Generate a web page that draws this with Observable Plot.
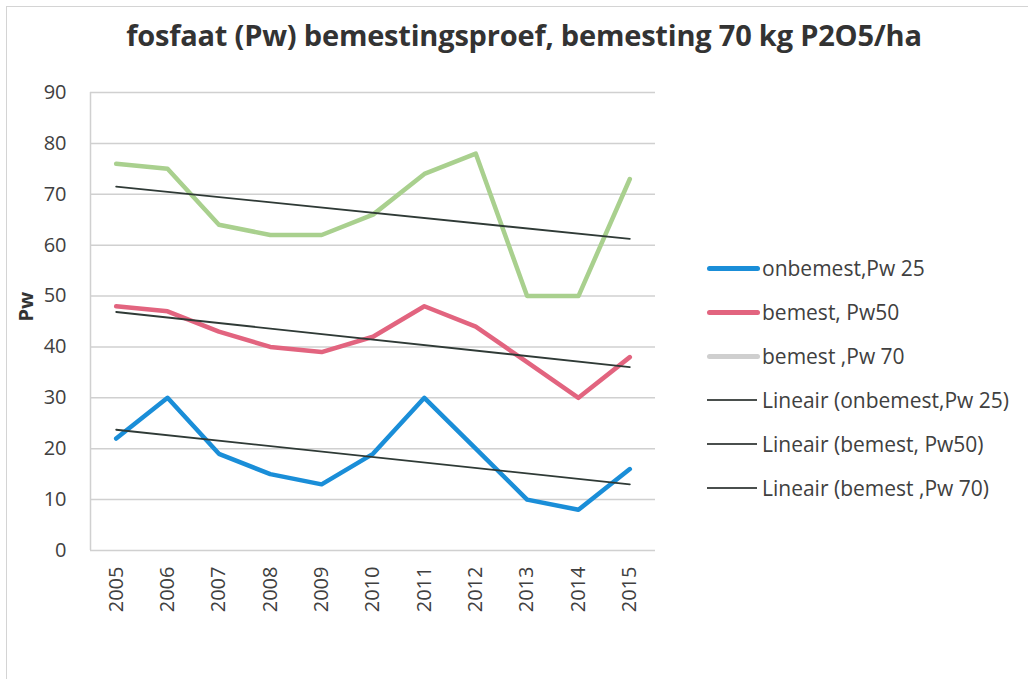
<!DOCTYPE html>
<html>
<head>
<meta charset="utf-8">
<script src="https://cdn.jsdelivr.net/npm/d3@7"></script>
<script src="https://cdn.jsdelivr.net/npm/@observablehq/plot@0.6"></script>
<style>
  html, body { margin: 0; padding: 0; background: #fff; }
  #wrap { position: relative; width: 1028px; height: 679px; overflow: hidden; font-family: "Open Sans", sans-serif; color: #404040; }
  #frame { position: absolute; left: 6px; top: 6px; width: 1040px; height: 700px; border-left: 1.5px solid #d4d4d4; border-top: 1.5px solid #d4d4d4; }
  #title { position: absolute; left: 0; top: 15px; width: 1048px; text-align: center; font-weight: 700; font-size: 29px; color: #333; letter-spacing: -0.2px; }
  #chart { position: absolute; left: 0; top: 70px; }
  #legend { position: absolute; left: 707px; top: 246px; font-size: 21px; color: #404040; white-space: nowrap; }
  .item { position: relative; height: 44px; display: flex; align-items: center; }
  .sw { width: 53px; margin-right: 2px; border-radius: 3px; }
</style>
</head>
<body>
<div id="wrap">
  <div id="frame"></div>
  <div id="title">fosfaat (Pw) bemestingsproef, bemesting 70 kg P2O5/ha</div>
  <div id="chart"></div>
  <div id="legend"></div>
</div>
<script>
const years = [2005, 2006, 2007, 2008, 2009, 2010, 2011, 2012, 2013, 2014, 2015];
const onbemest25 = [22, 30, 19, 15, 13, 19, 30, 20, 10, 8, 16];
const bemest50 = [48, 47, 43, 40, 39, 42, 48, 44, 37, 30, 38];
const bemest70 = [76, 75, 64, 62, 62, 66, 74, 78, 50, 50, 73];
const seriesNames = ["onbemest,Pw 25", "bemest, Pw50", "bemest ,Pw 70"];
const seriesColors = ["#1a8ed8", "#e2647f", "#a9d08e"];
const legendSwatch = ["#1a8ed8", "#e2647f", "#cfcfcf"];
const trendNames = ["Lineair (onbemest,Pw 25)", "Lineair (bemest, Pw50)", "Lineair (bemest ,Pw 70)"];
const yTicks = [0, 10, 20, 30, 40, 50, 60, 70, 80, 90];

const allSeries = [onbemest25, bemest50, bemest70];
const data = allSeries.flatMap((vals, i) => years.map((y, j) => ({year: y, value: vals[j], series: seriesNames[i]})));

const plot = Plot.plot({
  width: 1028,
  height: 609,
  marginLeft: 90,
  marginRight: 373,
  marginTop: 22,
  marginBottom: 129,
  style: {fontFamily: "Open Sans, sans-serif", fontSize: "20px", color: "#404040", background: "transparent"},
  x: {type: "linear", domain: [2004.5, 2015.5], ticks: years, tickFormat: d => String(d), tickRotate: -90, tickSize: 0, tickPadding: 16, label: null},
  y: {domain: [0, 90], ticks: yTicks, tickSize: 0, tickPadding: 24, label: null},
  marks: [
    Plot.gridY(yTicks, {stroke: "#d0d0d0", strokeOpacity: 1, strokeWidth: 1.5}),
    Plot.ruleX([2004.5], {stroke: "#d0d0d0", strokeWidth: 1.5}),
    Plot.line(data, {x: "year", y: "value", z: "series", stroke: "series", strokeWidth: 4.5, strokeLinejoin: "round", strokeLinecap: "round"}),
    Plot.linearRegressionY(data, {x: "year", y: "value", z: "series", stroke: "#2f3a36", strokeWidth: 1.8, ci: 0}),
    Plot.text(["Pw"], {frameAnchor: "left", dx: -64, dy: 0, rotate: -90, fontWeight: 700, fontSize: 20, fill: "#333"})
  ],
  color: {domain: seriesNames, range: seriesColors}
});
document.getElementById("chart").appendChild(plot);

const legend = document.getElementById("legend");
seriesNames.forEach((n, i) => {
  const d = document.createElement("div");
  d.className = "item";
  d.innerHTML = `<span class="sw" style="height:5px;background:${legendSwatch[i]}"></span><span>${n}</span>`;
  legend.appendChild(d);
});
trendNames.forEach((n, i) => {
  const d = document.createElement("div");
  d.className = "item";
  d.innerHTML = `<span class="sw" style="height:2px;background:#4a4f4d;border-radius:0;width:50px;margin-right:5px"></span><span>${n}</span>`;
  legend.appendChild(d);
});
</script>
</body>
</html>
